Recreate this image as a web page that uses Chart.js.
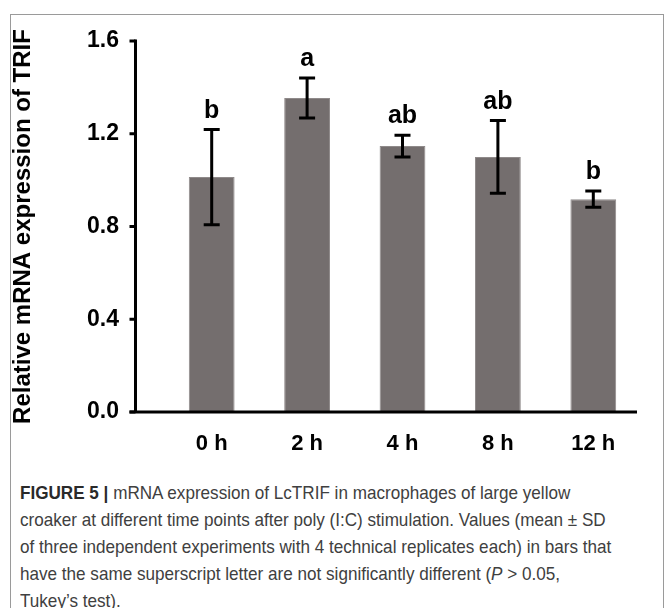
<!DOCTYPE html>
<html>
<head>
<meta charset="utf-8">
<script src="https://cdn.jsdelivr.net/npm/chart.js@4"></script>
<style>
  body { margin: 0; background: #fff; }
  #wrap { position: relative; width: 666px; height: 608px; overflow: hidden; }
  #frame { position: absolute; left: 10px; top: 14px; width: 652px; height: 620px; border: 1px solid #9a9a9a; }
  #chart { position: absolute; left: 0; top: 0; }
  #caption { position: absolute; left: 20px; top: 479px; font-family: "Liberation Sans", Arial, sans-serif;
             font-size: 19px; line-height: 27px; color: #404040; white-space: nowrap;
             transform: scaleX(0.9); transform-origin: left top; }
  #caption b { color: #2a2a2a; }
</style>
</head>
<body>
<div id="wrap">
  <div id="frame"></div>
  <canvas id="chart" width="666" height="470"></canvas>
  <div id="caption">
    <b>FIGURE 5 |</b> mRNA expression of LcTRIF in macrophages of large yellow<br>
    croaker at different time points after poly (I:C) stimulation. Values (mean ± SD<br>
    of three independent experiments with 4 technical replicates each) in bars that<br>
    have the same superscript letter are not significantly different (<i>P</i> &gt; 0.05,<br>
    Tukey’s test).
  </div>
</div>
<script>
const timePoints = ['0 h', '2 h', '4 h', '8 h', '12 h'];
const meanValues = [1.013, 1.354, 1.147, 1.100, 0.918];
const sdValues = [0.205, 0.086, 0.047, 0.157, 0.035];
const groupLetters = ['b', 'a', 'ab', 'ab', 'b'];
const yTicks = [0, 0.4, 0.8, 1.2, 1.6];

const boldFont = '"Liberation Sans", Arial, sans-serif';

// axis lines, error bars and letters drawn over the bars
const extrasPlugin = {
    id: 'extras',
    afterDatasetsDraw(chart) {
        const ctx = chart.ctx;
        const area = chart.chartArea;
        const y = chart.scales.y;
        const axisX = area.left - 28.5;
        ctx.save();
        ctx.strokeStyle = '#000';
        ctx.lineWidth = 3;
        ctx.lineCap = 'butt';
        // y axis
        ctx.beginPath();
        ctx.moveTo(axisX, y.getPixelForValue(1.6) - 1.5);
        ctx.lineTo(axisX, area.bottom);
        ctx.stroke();
        yTicks.forEach(function(t) {
            const py = y.getPixelForValue(t);
            ctx.beginPath();
            ctx.moveTo(axisX - 6, py);
            ctx.lineTo(axisX, py);
            ctx.stroke();
        });
        // x axis
        ctx.beginPath();
        ctx.moveTo(axisX - 6, area.bottom);
        ctx.lineTo(area.right - 4, area.bottom);
        ctx.stroke();

        const meta = chart.getDatasetMeta(0);
        ctx.font = 'bold 25px ' + boldFont;
        ctx.fillStyle = '#000';
        ctx.textAlign = 'center';
        ctx.textBaseline = 'alphabetic';
        meta.data.forEach(function(bar, i) {
            const top = y.getPixelForValue(meanValues[i] + sdValues[i]);
            const bot = y.getPixelForValue(meanValues[i] - sdValues[i]);
            ctx.beginPath();
            ctx.moveTo(bar.x, top);
            ctx.lineTo(bar.x, bot);
            ctx.moveTo(bar.x - 8, top);
            ctx.lineTo(bar.x + 8, top);
            ctx.moveTo(bar.x - 8, bot);
            ctx.lineTo(bar.x + 8, bot);
            ctx.stroke();
            ctx.fillText(groupLetters[i], bar.x, top - 12);
        });
        ctx.restore();
    }
};

new Chart(document.getElementById('chart'), {
    type: 'bar',
    data: {
        labels: timePoints,
        datasets: [{
            data: meanValues,
            backgroundColor: '#746e6e',
            borderColor: '#8f8a8a',
            borderWidth: 1,
            categoryPercentage: 1,
            barPercentage: 0.48
        }]
    },
    options: {
        responsive: false,
        animation: false,
        layout: { padding: { top: 41, right: 25, bottom: 6, left: 0 } },
        plugins: { legend: { display: false }, tooltip: { enabled: false } },
        scales: {
            x: {
                grid: { display: false, drawTicks: false },
                border: { display: false },
                ticks: { color: '#000', padding: 19, font: { family: boldFont, size: 22, weight: 'bold' } },
                afterFit(scale) { scale.height = 52; scale.paddingLeft = 0; scale.paddingRight = 0; }
            },
            y: {
                min: 0,
                max: 1.6,
                afterBuildTicks(scale) { scale.ticks = yTicks.map(function(v) { return { value: v }; }); },
                grid: { display: false, drawTicks: false },
                border: { display: false },
                ticks: {
                    color: '#000',
                    padding: 45,
                    font: { family: boldFont, size: 23, weight: 'bold' },
                    callback: function(v) { return v.toFixed(1); }
                },
                title: {
                    display: true,
                    text: 'Relative mRNA expression of TRIF',
                    color: '#000',
                    padding: { top: 9, bottom: 0 },
                    font: { family: boldFont, size: 24, weight: 'bold' }
                },
                afterFit(scale) { scale.width = 164; scale.paddingTop = 0; scale.paddingBottom = 0; }
            }
        }
    },
    plugins: [extrasPlugin]
});
</script>
</body>
</html>
